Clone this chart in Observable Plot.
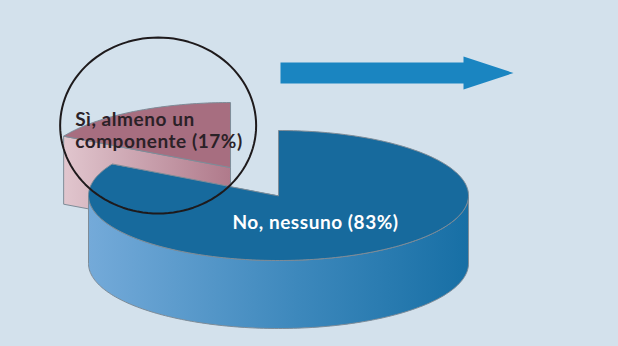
<!DOCTYPE html>
<html><head><meta charset="utf-8">
<script src="https://cdn.jsdelivr.net/npm/d3@7"></script>
<script src="https://cdn.jsdelivr.net/npm/@observablehq/plot@0.6"></script>
<style>
html,body{margin:0;padding:0;background:#d3e1ec;}
#chart{width:618px;height:346px;overflow:hidden;}
#chart text{letter-spacing:0.55px;}
</style></head>
<body><div id="chart"></div>
<script>
// ---- data ----
const categories = ["No, nessuno", "Sì, almeno un componente"];
const shares = [83, 17];
const labelLines = [["No, nessuno (83%)"], ["Sì, almeno un", "componente (17%)"]];
const explode = [0, 0.5];

// ---- layout ----
const W = 618, H = 346;
const CX = 278, CY = 195, RX = 190, RY = 65, DEPTH = 68;
const topFill = ["#176a9d", "#a76e80"];
const sideFill = ["url(#sideBlue)", "url(#sidePink)"];
const edge = "#7e8c98";

const pie = d3.pie().sort(null).value(d => d)(shares);
function pt(c, a, dz = 0) { return [c[0] + RX * Math.sin(a), c[1] - RY * Math.cos(a) + dz]; }
function arc(c, a0, a1, dz = 0) {
  const n = Math.max(2, Math.ceil(Math.abs(a1 - a0) / 0.02));
  return d3.range(n + 1).map(i => pt(c, a0 + (a1 - a0) * i / n, dz));
}

const slices = pie.map((p, i) => {
  const mid = (p.startAngle + p.endAngle) / 2;
  const c = [CX + explode[i] * RX * Math.sin(mid), CY - explode[i] * RY * Math.cos(mid)];
  return {i, p, mid, c};
}).sort((a, b) => Math.cos(b.mid) - Math.cos(a.mid));

const polys = [];
for (const s of slices) {
  const {i, p, c} = s;
  const a0 = p.startAngle, a1 = p.endAngle;
  for (const [a, nrm] of [[a0, a0 - Math.PI / 2], [a1, a1 + Math.PI / 2]]) {
    if (Math.cos(nrm) < -1e-6) {
      const o = pt(c, a);
      polys.push({pts: [c, o, [o[0], o[1] + DEPTH], [c[0], c[1] + DEPTH]], fill: sideFill[i]});
    }
  }
  const lo = Math.max(a0, Math.PI / 2), hi = Math.min(a1, 3 * Math.PI / 2);
  if (hi > lo) {
    polys.push({pts: [...arc(c, lo, hi), ...arc(c, hi, lo, DEPTH)], fill: sideFill[i]});
  }
  polys.push({pts: [c, ...arc(c, a0, a1)], fill: topFill[i]});
}

// highlight ellipse around the small slice
const small = slices.find(s => s.i === 1);
const hl = {cx: small.c[0] - 72, cy: small.c[1] - 42, rx: 98, ry: 88};
const ring = d3.range(0, 361, 3).map(t => [hl.cx + hl.rx * Math.cos(t * Math.PI / 180), hl.cy + hl.ry * Math.sin(t * Math.PI / 180)]);

// arrow
const arrow = [[280, 62], [463, 62], [463, 56], [513, 72.5], [463, 89], [463, 83], [280, 83]];

// labels
const big = slices.find(s => s.i === 0);
const bigLabel = [{x: big.c[0] + 37, y: big.c[1] + 33, text: labelLines[0].join("\n")}];
const smallLabel = [{x: small.c[0] - 155, y: small.c[1] - 20, text: labelLines[1].join("\n")}];

const marks = polys.map(pl => Plot.line(pl.pts, {x: d => d[0], y: d => d[1], curve: "linear-closed", fill: pl.fill, stroke: edge, strokeWidth: 1}));
marks.push(Plot.line(arrow, {x: d => d[0], y: d => d[1], curve: "linear-closed", fill: "#1a85c1", stroke: "none"}));
const font = {fontSize: 19, fontWeight: "bold", fontFamily: "Lato", lineAnchor: "bottom", lineHeight: 1.12};
marks.push(Plot.text(bigLabel, {x: "x", y: "y", text: "text", fill: "#ffffff", textAnchor: "middle", ...font}));
marks.push(Plot.text(smallLabel, {x: "x", y: "y", text: "text", fill: "#2b2127", textAnchor: "start", ...font}));
marks.push(Plot.line(ring, {x: d => d[0], y: d => d[1], curve: "linear-closed", stroke: "#1e1a1c", strokeWidth: 2, fill: "none"}));

const chart = Plot.plot({
  width: W, height: H, margin: 0,
  x: {domain: [0, W], range: [0, W], axis: null},
  y: {domain: [0, H], range: [0, H], axis: null},
  style: {background: "#d3e1ec", overflow: "visible"},
  marks
});
chart.insertAdjacentHTML("afterbegin", `<defs>
<linearGradient id="sideBlue" x1="0" x2="1" y1="0" y2="0"><stop offset="0" stop-color="#74aad9"/><stop offset="0.55" stop-color="#3d88bc"/><stop offset="1" stop-color="#176fa5"/></linearGradient>
<linearGradient id="sidePink" x1="0" x2="1" y1="0" y2="0"><stop offset="0" stop-color="#e1c6ce"/><stop offset="1" stop-color="#b07a8b"/></linearGradient>
</defs>`);
document.getElementById("chart").appendChild(chart);
</script>
</body></html>
